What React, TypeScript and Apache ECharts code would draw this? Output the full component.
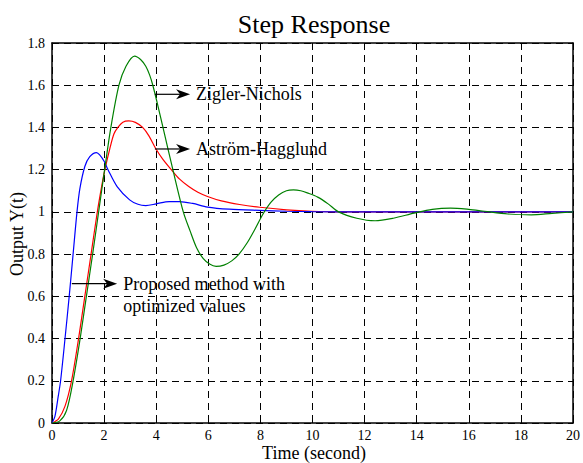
import React, { useEffect, useRef } from "react";
import * as echarts from "echarts";

// ---- Data ----
const xTicks = [0, 2, 4, 6, 8, 10, 12, 14, 16, 18, 20];
const yTickStep = 0.2;

// Proposed method with optimized values (blue)
const tBlue = [0, 0.11, 0.24, 0.33, 0.5, 0.66, 0.81, 0.96, 1.07, 1.26, 1.45, 1.71, 1.83, 2.0, 2.15, 2.5, 2.98, 3.3, 3.6, 4.0, 4.5, 4.89, 5.4, 5.97, 6.8, 7.97, 9.0, 9.97, 12, 14, 16, 18, 20];
const yBlue = [0, 0.03, 0.127, 0.2, 0.4, 0.6, 0.8, 1.0, 1.11, 1.215, 1.262, 1.281, 1.27, 1.24, 1.2, 1.12, 1.057, 1.036, 1.03, 1.038, 1.049, 1.049, 1.04, 1.023, 1.013, 1.007, 1.003, 1.001, 1, 1, 1, 1, 1];

// Astrom-Hagglund (red)
const tRed = [0, 0.25, 0.5, 0.75, 1.02, 1.26, 1.5, 1.74, 1.92, 2.03, 2.22, 2.38, 2.53, 2.72, 2.95, 3.2, 3.48, 3.72, 3.98, 4.25, 4.58, 4.9, 5.25, 5.6, 5.97, 6.5, 7.2, 7.97, 9.0, 9.97, 11, 12, 14, 16, 18, 20];
const yRed = [0, 0.02, 0.08, 0.2, 0.4, 0.6, 0.8, 1.0, 1.13, 1.2, 1.3, 1.37, 1.4, 1.425, 1.431, 1.424, 1.4, 1.36, 1.3, 1.25, 1.2, 1.155, 1.12, 1.093, 1.073, 1.052, 1.035, 1.022, 1.01, 1.003, 1.0, 1, 1, 1, 1, 1];

// Ziegler-Nichols (green)
const tGreen = [0, 0.3, 0.56, 0.81, 1.08, 1.32, 1.56, 1.79, 2.02, 2.26, 2.57, 2.84, 3.17, 3.4, 3.6, 3.75, 3.87, 4.07, 4.26, 4.64, 5.04, 5.3, 5.55, 5.8, 6.05, 6.3, 6.6, 6.9, 7.18, 7.5, 7.8, 8.1, 8.4, 8.7, 9.0, 9.27, 9.55, 9.8, 10.2, 10.6, 11.0, 11.7, 12.4, 13.1, 13.9, 14.6, 15.3, 16.0, 16.6, 17.5, 18.4, 19.2, 20];
const yGreen = [0, 0.01, 0.06, 0.2, 0.4, 0.6, 0.8, 1.0, 1.2, 1.4, 1.6, 1.69, 1.738, 1.722, 1.69, 1.648, 1.6, 1.5, 1.4, 1.2, 1.0, 0.91, 0.83, 0.78, 0.753, 0.742, 0.748, 0.768, 0.8, 0.855, 0.92, 0.99, 1.045, 1.08, 1.1, 1.104, 1.1, 1.09, 1.07, 1.038, 1.0, 0.97, 0.958, 0.97, 0.994, 1.012, 1.018, 1.012, 1.003, 0.99, 0.986, 0.993, 1.0];

// Annotation arrows (data coordinates) and their texts
const annTexts = [["Zigler-Nichols"], ["Aström-Hagglund"], ["Proposed method with", "optimized values"]];
const annStartT = [3.95, 3.95, 0.76];
const annEndT = [5.3, 5.3, 2.5];
const annY = [1.557, 1.298, 0.66];

const FONT = "'Liberation Serif', 'Times New Roman', serif";

const zip = (t: number[], y: number[]) => t.map((v, i) => [v, y[i]]);

export default function App() {
  const ref = useRef<HTMLDivElement>(null);

  useEffect(() => {
    document.body.style.margin = "0";
    const chart = echarts.init(ref.current!, null, { renderer: "svg" });

    const dashed = { show: true, lineStyle: { color: "#000", width: 1, type: [7, 5] as any } };
    const axisLine = { show: true, onZero: false, lineStyle: { color: "#000", width: 1.5 } };
    const tickIn = { show: true, inside: true, length: 5, lineStyle: { color: "#000", width: 1 } };
    const labelStyle = { color: "#000", fontFamily: FONT, fontSize: 14 };

    const lineSeries = (name: string, data: number[][], color: string, z: number) => ({
      type: "line",
      name,
      data,
      showSymbol: false,
      symbol: "none",
      smooth: 0.3,
      z,
      lineStyle: { color, width: 1.2 },
      emphasis: { disabled: true },
      silent: true,
    });

    chart.setOption({
      animation: false,
      backgroundColor: "#fff",
      grid: { left: 52, right: 7, top: 43, bottom: 40, containLabel: false },
      xAxis: [
        {
          type: "value",
          min: xTicks[0],
          max: xTicks[xTicks.length - 1],
          interval: xTicks[1] - xTicks[0],
          position: "bottom",
          axisLine,
          axisTick: tickIn,
          axisLabel: { ...labelStyle, margin: 5 },
          splitLine: dashed,
        },
        {
          type: "value",
          min: xTicks[0],
          max: xTicks[xTicks.length - 1],
          interval: xTicks[1] - xTicks[0],
          position: "top",
          axisLine,
          axisTick: tickIn,
          axisLabel: { show: false },
          splitLine: { show: false },
        },
      ],
      yAxis: [
        {
          type: "value",
          min: 0,
          max: 1.8,
          interval: yTickStep,
          position: "left",
          axisLine,
          axisTick: tickIn,
          axisLabel: { ...labelStyle, margin: 7 },
          splitLine: dashed,
        },
        {
          type: "value",
          min: 0,
          max: 1.8,
          interval: yTickStep,
          position: "right",
          axisLine,
          axisTick: tickIn,
          axisLabel: { show: false },
          splitLine: { show: false },
        },
      ],
      series: [
        lineSeries("Aström-Hagglund", zip(tRed, yRed), "#ff0000", 3),
        lineSeries("Proposed method", zip(tBlue, yBlue), "#0000ff", 4),
        lineSeries("Zigler-Nichols", zip(tGreen, yGreen), "#008000", 5),
      ],
    });

    const px = (t: number, v: number) =>
      chart.convertToPixel({ xAxisIndex: 0, yAxisIndex: 0 }, [t, v]) as number[];

    const graphics: any[] = [
      {
        type: "text",
        x: 314,
        y: 24,
        style: { text: "Step Response", fontFamily: FONT, fontSize: 26, fill: "#000", align: "center", verticalAlign: "middle" },
      },
      {
        type: "text",
        x: 314,
        y: 453,
        style: { text: "Time (second)", fontFamily: FONT, fontSize: 18, fill: "#000", align: "center", verticalAlign: "middle" },
      },
      {
        type: "text",
        x: 17,
        y: 234,
        rotation: Math.PI / 2,
        style: { text: "Output Y(t)", fontFamily: FONT, fontSize: 18, fill: "#000", align: "center", verticalAlign: "middle" },
      },
    ];

    annTexts.forEach((lines, i) => {
      const [x0, y0] = px(annStartT[i], annY[i]);
      const [x1] = px(annEndT[i], annY[i]);
      graphics.push({
        type: "line",
        z: 20,
        shape: { x1: x0, y1: y0, x2: x1 - 6, y2: y0 },
        style: { stroke: "#000", lineWidth: 1.2 },
      });
      graphics.push({
        type: "polygon",
        z: 20,
        shape: { points: [[x1, y0], [x1 - 14, y0 - 5], [x1 - 10, y0], [x1 - 14, y0 + 5]] },
        style: { fill: "#000" },
      });
      lines.forEach((line, j) => {
        graphics.push({
          type: "text",
          z: 20,
          x: x1 + 6,
          y: y0 + j * 22,
          style: { text: line, fontFamily: FONT, fontSize: 18, fill: "#000", align: "left", verticalAlign: "middle" },
        });
      });
    });

    chart.setOption({ graphic: graphics });

    return () => chart.dispose();
  }, []);

  return <div ref={ref} style={{ width: 583, height: 463 }} />;
}
